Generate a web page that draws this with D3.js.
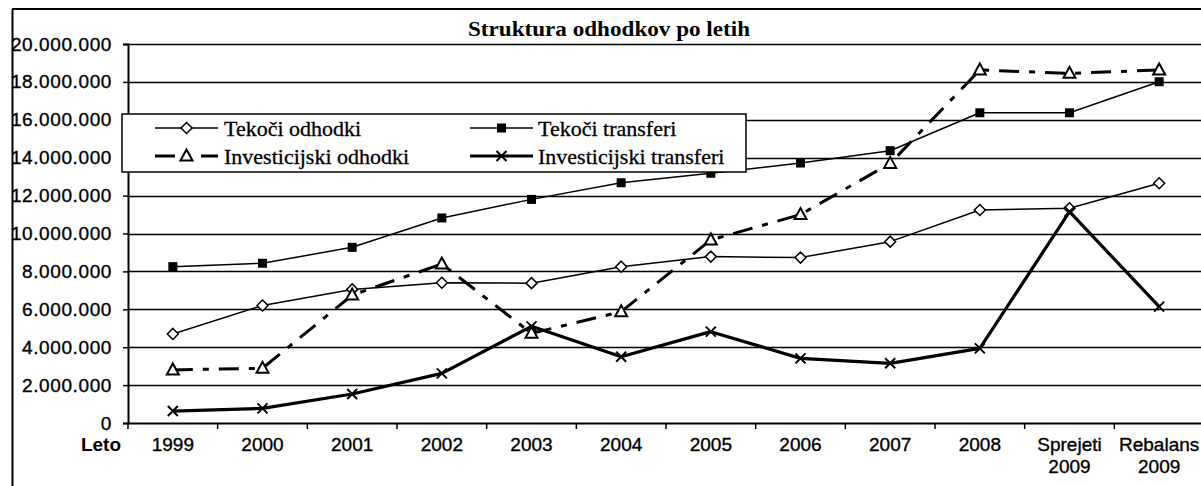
<!DOCTYPE html>
<html>
<head>
<meta charset="utf-8">
<script src="https://cdn.jsdelivr.net/npm/d3@7"></script>
<style>
  html, body { margin: 0; padding: 0; background: #fff; }
  svg { display: block; }
  .sans { font-family: Arial, "Liberation Sans", sans-serif; }
  .serif { font-family: "Times New Roman", "Liberation Serif", serif; }
</style>
</head>
<body>
<div id="chart"></div>
<script>
// Struktura odhodkov po letih — line chart, scanned-Excel look.

const categories = ['1999', '2000', '2001', '2002', '2003', '2004', '2005', '2006', '2007', '2008', 'Sprejeti 2009', 'Rebalans 2009'];

const tekociOdhodki      = [4700000, 6200000, 7050000, 7400000, 7380000, 8250000, 8780000, 8730000, 9570000, 11240000, 11330000, 12650000];
const tekociTransferi    = [8250000, 8430000, 9270000, 10820000, 11800000, 12680000, 13180000, 13720000, 14370000, 16370000, 16370000, 18010000];
const investicijskiOdh   = [2800000, 2890000, 6750000, 8390000, 4730000, 5870000, 9660000, 11000000, 13700000, 18630000, 18450000, 18630000];
const investicijskiTrans = [630000, 770000, 1530000, 2620000, 5100000, 3500000, 4820000, 3410000, 3150000, 3940000, 11150000, 6140000];

const yTicks = [0, 2000000, 4000000, 6000000, 8000000, 10000000, 12000000, 14000000, 16000000, 18000000, 20000000];

const series = [
  { name: 'Tekoči odhodki', values: tekociOdhodki, marker: 'diamond', width: 1.5, dash: null },
  { name: 'Tekoči transferi', values: tekociTransferi, marker: 'square', width: 1.5, dash: null },
  { name: 'Investicijski odhodki', values: investicijskiOdh, marker: 'triangle', width: 3, dash: '20,10,6,10' },
  { name: 'Investicijski transferi', values: investicijskiTrans, marker: 'cross', width: 3.2, dash: null },
];

const W = 1201, H = 486;
const plot = { left: 128, right: 1204, top: 44, bottom: 423 };

const svg = d3.select('#chart').append('svg')
  .attr('width', W).attr('height', H)
  .attr('viewBox', `0 0 ${W} ${H}`);

svg.append('rect').attr('width', W).attr('height', H).attr('fill', '#fff');

const x = d3.scaleBand().domain(categories).range([plot.left, plot.right]).padding(0);
const y = d3.scaleLinear().domain([0, 20000000]).range([plot.bottom, plot.top]);
const cx = (c) => x(c) + x.bandwidth() / 2;

const fmt = d3.formatLocale({ decimal: ',', thousands: '.', grouping: [3], currency: ['', ''] }).format(',');

// chart-area frame (top and left edges visible in the scan)
svg.append('line').attr('x1', 12).attr('x2', W).attr('y1', 9).attr('y2', 9)
  .attr('stroke', '#000').attr('stroke-width', 1.8);
svg.append('line').attr('x1', 12.5).attr('x2', 12.5).attr('y1', 9).attr('y2', H)
  .attr('stroke', '#000').attr('stroke-width', 2);

// title
svg.append('text').attr('class', 'serif')
  .attr('x', 609).attr('y', 36)
  .attr('text-anchor', 'middle')
  .attr('font-size', 21).attr('font-weight', 'bold')
  .attr('textLength', 282).attr('lengthAdjust', 'spacingAndGlyphs')
  .text('Struktura odhodkov po letih');

// gridlines
svg.append('g').selectAll('line').data(yTicks.filter((d) => d > 0)).join('line')
  .attr('x1', plot.left).attr('x2', W)
  .attr('y1', (d) => Math.round(y(d)) + 0.5).attr('y2', (d) => Math.round(y(d)) + 0.5)
  .attr('stroke', '#000').attr('stroke-width', 1.5);

// y axis
const yAxis = svg.append('g').attr('transform', `translate(${plot.left},0)`)
  .call(d3.axisLeft(y).tickValues(yTicks).tickFormat(fmt).tickSize(5).tickPadding(11));
yAxis.select('.domain').attr('stroke-width', 2);
yAxis.selectAll('.tick line').attr('stroke-width', 1.5);
yAxis.selectAll('text').attr('class', 'sans').attr('font-size', 19).attr('fill', '#000')
  .attr('letter-spacing', 0.6).attr('stroke', '#000').attr('stroke-width', 0.35);

// x axis
const xAxis = svg.append('g').attr('transform', `translate(0,${plot.bottom})`)
  .call(d3.axisBottom(x).tickSize(0).tickFormat(''));
xAxis.select('.domain').attr('stroke-width', 2.2);
xAxis.selectAll('.tick').remove();

// tick marks between categories
svg.append('g').selectAll('line').data(categories).join('line')
  .attr('x1', (d) => x(d)).attr('x2', (d) => x(d))
  .attr('y1', plot.bottom).attr('y2', plot.bottom + 6)
  .attr('stroke', '#000').attr('stroke-width', 1.5);

// category labels
const catLabels = svg.append('g').attr('class', 'sans').attr('font-size', 19).attr('text-anchor', 'middle')
  .attr('stroke', '#000').attr('stroke-width', 0.35)
  .selectAll('text').data(categories).join('text')
  .attr('x', (d) => cx(d)).attr('y', 451);
catLabels.each(function (d) {
  const parts = d.split(' ');
  d3.select(this).selectAll('tspan').data(parts).join('tspan')
    .attr('x', cx(d)).attr('dy', (p, i) => (i === 0 ? 0 : 22)).text((p) => p);
});

svg.append('text').attr('class', 'sans')
  .attr('x', 101).attr('y', 451).attr('text-anchor', 'middle')
  .attr('font-size', 19).attr('font-weight', 'bold')
  .text('Leto');

// markers
function drawMarker(g, type, px, py) {
  if (type === 'diamond') {
    g.append('path').attr('d', `M${px},${py - 5.5}L${px + 5.5},${py}L${px},${py + 5.5}L${px - 5.5},${py}Z`)
      .attr('fill', '#fff').attr('stroke', '#000').attr('stroke-width', 1.5);
  } else if (type === 'square') {
    g.append('rect').attr('x', px - 4.5).attr('y', py - 4.5).attr('width', 9).attr('height', 9)
      .attr('fill', '#000');
  } else if (type === 'triangle') {
    g.append('path').attr('d', `M${px},${py - 6.5}L${px + 6},${py + 4.5}L${px - 6},${py + 4.5}Z`)
      .attr('fill', '#fff').attr('stroke', '#000').attr('stroke-width', 2);
  } else if (type === 'cross') {
    g.append('path').attr('d', `M${px - 5},${py - 5}L${px + 5},${py + 5}M${px - 5},${py + 5}L${px + 5},${py - 5}`)
      .attr('stroke', '#000').attr('stroke-width', 2);
  }
}

const line = d3.line().x((d, i) => cx(categories[i])).y((d) => y(d));

series.forEach((s) => {
  const g = svg.append('g');
  g.append('path').datum(s.values)
    .attr('d', line)
    .attr('fill', 'none').attr('stroke', '#000')
    .attr('stroke-width', s.width)
    .attr('stroke-dasharray', s.dash)
    .attr('stroke-linejoin', 'round');
  s.values.forEach((v, i) => drawMarker(g, s.marker, cx(categories[i]), y(v)));
});

// legend
const legend = svg.append('g');
legend.append('rect').attr('x', 122).attr('y', 114).attr('width', 624).attr('height', 58)
  .attr('fill', '#fff').attr('stroke', '#000').attr('stroke-width', 1.5);

const legendPos = [
  { x0: 155, x1: 218, tx: 224, y: 128 },
  { x0: 470, x1: 533, tx: 538, y: 128 },
  { x0: 155, x1: 218, tx: 224, y: 156 },
  { x0: 470, x1: 533, tx: 538, y: 156 },
];

series.forEach((s, k) => {
  const p = legendPos[k];
  const g = legend.append('g');
  g.append('line').attr('x1', p.x0).attr('x2', p.x1).attr('y1', p.y).attr('y2', p.y)
    .attr('stroke', '#000').attr('stroke-width', s.width)
    .attr('stroke-dasharray', s.dash);
  drawMarker(g, s.marker, (p.x0 + p.x1) / 2, p.y);
  g.append('text').attr('class', 'serif')
    .attr('x', p.tx).attr('y', p.y + 8)
    .attr('font-size', 22).attr('fill', '#000')
    .attr('stroke', '#000').attr('stroke-width', 0.3)
    .text(s.name);
});
</script>
</body>
</html>
